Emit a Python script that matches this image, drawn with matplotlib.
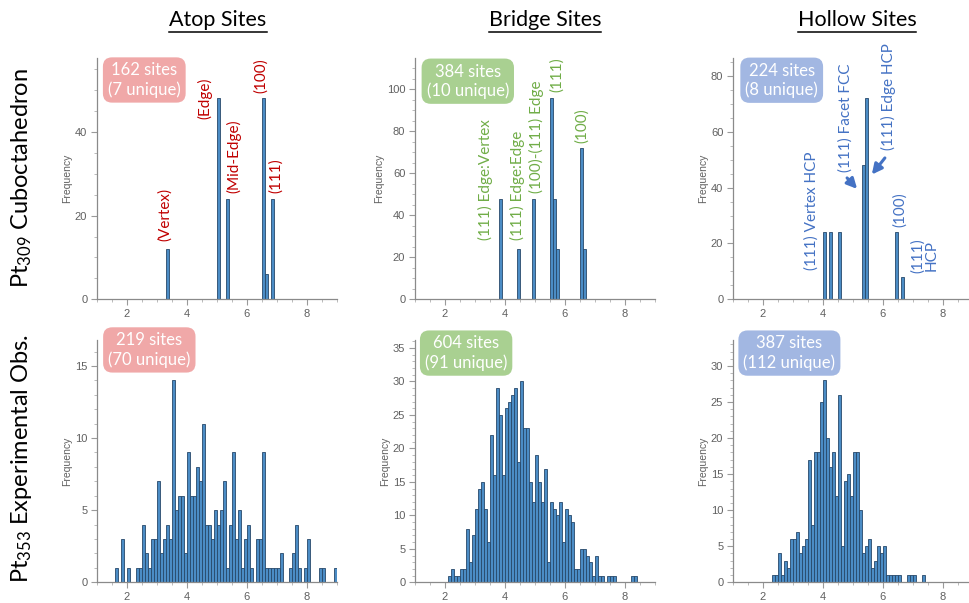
import numpy as np
import matplotlib
matplotlib.use('Agg')
import matplotlib.pyplot as plt
from matplotlib.ticker import MultipleLocator
from matplotlib.lines import Line2D

plt.rcParams['font.family'] = ['Lato', 'DejaVu Sans']
plt.rcParams['mathtext.fontset'] = 'custom'
plt.rcParams['mathtext.rm'] = 'Lato'
plt.rcParams['mathtext.it'] = 'Lato:italic'
plt.rcParams['mathtext.bf'] = 'Lato:bold'

col_titles = ['Atop Sites', 'Bridge Sites', 'Hollow Sites']
row_titles = ['Pt$_{309}$ Cuboctahedron', 'Pt$_{353}$ Experimental Obs.']

# Pt309 cuboctahedron: bin centres and counts (bins 0.1 wide)
atop_309_x = [3.35, 5.05, 5.35, 6.55, 6.65, 6.85]
atop_309_n = [12, 48, 24, 48, 6, 24]
bridge_309_x = [3.85, 4.45, 4.95, 5.55, 5.65, 5.75, 6.55, 6.65]
bridge_309_n = [48, 24, 48, 96, 48, 24, 72, 24]
hollow_309_x = [4.05, 4.25, 4.55, 5.35, 5.45, 6.45, 6.65]
hollow_309_n = [24, 24, 24, 48, 72, 24, 8]

# Pt353 experimental: first bin edge and counts of consecutive 0.1 bins
atop_353_start = 1.6
atop_353_n = [1, 0, 3, 0, 1, 0, 0, 1, 1, 4, 2, 1, 3, 3, 7, 2, 3, 4, 3,
              14, 5, 6, 6, 2, 9, 6, 6, 8, 7, 11, 4, 4, 3, 5, 4, 5, 7, 1,
              4, 9, 3, 5, 1, 3, 4, 1, 0, 3, 3, 9, 1, 1, 1, 1, 1, 2, 0, 0,
              1, 2, 4, 1, 0, 1, 3, 0, 0, 0, 1, 1, 0, 0, 0, 1]
bridge_353_start = 2.1
bridge_353_n = [1, 2, 1, 1, 2, 2, 8, 3, 7, 11, 14, 15, 11, 6, 22, 16, 29,
                25, 16, 26, 27, 28, 29, 18, 30, 23, 23, 15, 12, 19, 15, 12,
                17, 3, 12, 11, 10, 12, 6, 11, 10, 9, 2, 2, 5, 5, 4, 3, 1, 4,
                1, 1, 0, 1, 1, 1, 0, 0, 0, 0, 0, 1, 1]
hollow_353_start = 2.3
hollow_353_n = [1, 1, 4, 1, 3, 2, 6, 6, 7, 4, 5, 6, 17, 8, 18, 18, 25, 28,
                20, 16, 18, 12, 26, 5, 14, 15, 12, 18, 18, 10, 4, 5, 6, 2,
                3, 5, 4, 5, 1, 1, 1, 1, 1, 0, 0, 1, 1, 1, 0, 0, 1]

box_texts = [['162 sites\n(7 unique)', '384 sites\n(10 unique)', '224 sites\n(8 unique)'],
             ['219 sites\n(70 unique)', '604 sites\n(91 unique)', '387 sites\n(112 unique)']]

atop_labels = [('(Vertex)', 3.28, 14), ('(Edge)', 4.58, 43), ('(Mid-Edge)', 5.56, 25.4),
               ('(100)', 6.48, 49.3), ('(111)', 6.97, 25.4)]
bridge_labels = [('(111) Edge:Vertex', 3.35, 28.2), ('(111) Edge:Edge', 4.42, 28.2),
                 ('(100)-(111) Edge', 5.05, 50.5), ('(111)', 5.72, 98.9),
                 ('(100)', 6.55, 74.3)]
hollow_labels = [('(111) Vertex HCP', 3.63, 10.5), ('(111) Facet FCC', 4.74, 45.7),
                 ('(111) Edge HCP', 6.17, 53.5), ('(100)', 6.56, 26),
                 ('(111)\nHCP', 7.39, 9.3)]

label_colors = ['#c00000', '#70ad47', '#4472c4']
box_colors = ['#f0a8a8', '#a9d091', '#a2b7e2']
bar_fc = '#4b8cc5'
bar_ec = '#27486a'

W, H = 970, 603
fig = plt.figure(figsize=(W / 100, H / 100), dpi=100)

lefts = [97, 415, 733]
rows_px = [(58.3, 299.3), (340, 582.3)]
ylims = [[57.6, 114.8, 86.3], [16.8, 36.2, 33.6]]
box_pos = [[(0.197, 0.91), (0.22, 0.905), (0.203, 0.909)],
           [(0.218, 0.959), (0.213, 0.946), (0.235, 0.946)]]

top_data = [(atop_309_x, atop_309_n), (bridge_309_x, bridge_309_n),
            (hollow_309_x, hollow_309_n)]
bot_data = [(atop_353_start, atop_353_n), (bridge_353_start, bridge_353_n),
            (hollow_353_start, hollow_353_n)]
labels_all = [atop_labels, bridge_labels, hollow_labels]

axes = [[None] * 3, [None] * 3]
for r in range(2):
    top_px, bot_px = rows_px[r]
    for c in range(3):
        ax = fig.add_axes([lefts[c] / W, 1 - bot_px / H, 240 / W, (bot_px - top_px) / H])
        axes[r][c] = ax
        if r == 0:
            xs, ns = top_data[c]
        else:
            start, ns = bot_data[c]
            xs = start + 0.05 + 0.1 * np.arange(len(ns))
        ax.bar(xs, ns, width=0.1, color=bar_fc, edgecolor=bar_ec, linewidth=0.6, zorder=2)
        ax.set_xlim(1, 9)
        ax.set_ylim(0, ylims[r][c])
        for s in ['top', 'right']:
            ax.spines[s].set_visible(False)
        for s in ['left', 'bottom']:
            ax.spines[s].set_color('#8a8a8a')
            ax.spines[s].set_linewidth(0.9)
        ax.xaxis.set_major_locator(MultipleLocator(2))
        ax.xaxis.set_minor_locator(MultipleLocator(0.5))
        if r == 0:
            ax.yaxis.set_major_locator(MultipleLocator(20))
            ax.yaxis.set_minor_locator(MultipleLocator(5))
        else:
            ax.yaxis.set_major_locator(MultipleLocator(5))
            ax.yaxis.set_minor_locator(MultipleLocator(1))
        ax.tick_params(which='major', length=4, width=0.8, color='#9a9a9a',
                       labelsize=8, labelcolor='#606060', pad=3)
        ax.tick_params(which='minor', length=2, width=0.6, color='#b0b0b0')
        for lab in ax.get_xticklabels() + ax.get_yticklabels():
            lab.set_family('Liberation Sans')
        ax.set_ylabel('Frequency', fontsize=7.5, color='#606060',
                      family='Liberation Sans', labelpad=2)
        bx, by = box_pos[r][c]
        ax.text(bx, by, box_texts[r][c], transform=ax.transAxes, ha='center',
                va='center', color='white', fontsize=12, linespacing=1.2, zorder=5,
                bbox=dict(boxstyle='round,pad=0.3,rounding_size=0.55',
                          fc=box_colors[c], ec='none'))
        if r == 0:
            for txt, lx, ly in labels_all[c]:
                ax.text(lx, ly, txt, rotation=90, ha='center', va='bottom',
                        multialignment='center', color=label_colors[c],
                        fontsize=11, linespacing=1.0, zorder=4, clip_on=False)

# arrows for the hollow site labels
arrow_props = dict(arrowstyle='-|>', color=label_colors[2], lw=2.2, mutation_scale=15)
axes[0][2].annotate('', xy=(5.2, 38.8), xytext=(4.74, 44.2), arrowprops=arrow_props)
axes[0][2].annotate('', xy=(5.57, 43.9), xytext=(6.12, 51.4), arrowprops=arrow_props)

# column titles with underline
title_x = [218, 545, 857]
titles = []
for c in range(3):
    t = fig.text(title_x[c] / W, 1 - 20 / H, col_titles[c], ha='center', va='center',
                 fontsize=15.5, color='black')
    titles.append(t)

for r, yc in enumerate([178, 458]):
    fig.text(22 / W, 1 - yc / H, row_titles[r], rotation=90, ha='center', va='center',
             fontsize=17, color='black')

fig.canvas.draw()
renderer = fig.canvas.get_renderer()
for t in titles:
    bb = t.get_window_extent(renderer)
    y = (bb.y0 - 1.5) / H
    fig.add_artist(Line2D([bb.x0 / W, bb.x1 / W], [y, y], color='black', lw=1.1))

fig.savefig('out.png', dpi=100)
